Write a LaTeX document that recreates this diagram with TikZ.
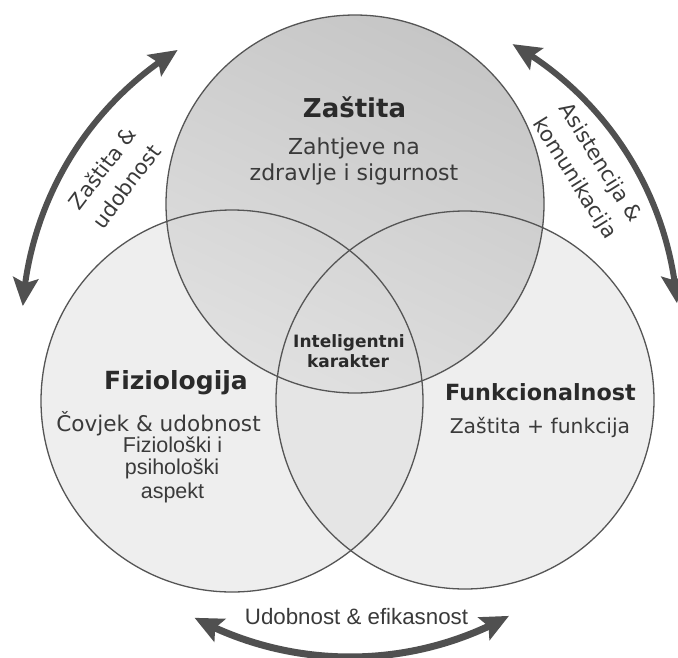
\documentclass[tikz,border=0pt]{standalone}
\usepackage{fontspec}
\setmainfont{DejaVu Sans}
\newfontfamily\arialf{Liberation Sans}
\usetikzlibrary{arrows.meta,bending,calc}
\definecolor{edgec}{HTML}{555555}
\definecolor{arrowc}{HTML}{505050}
\definecolor{txtd}{HTML}{2A2A2A}
\definecolor{txtr}{HTML}{3A3A3A}
\definecolor{lightfill}{HTML}{DEDEDE}
\definecolor{topdark}{HTML}{C6C6C6}
\definecolor{toplight}{HTML}{E0E0E0}
\begin{document}
\begin{tikzpicture}[x=1pt,y=-1pt,
  ring/.style={draw=edgec, line width=1.3pt},
  twoway/.style={draw=arrowc, line width=6pt,
    {Stealth[length=28pt,width=25pt,inset=5pt,flex]}-{Stealth[length=28pt,width=25pt,inset=5pt,flex]}},
  title/.style={font=\bfseries\fontsize{#1}{#1}\selectfont, text=txtd, inner sep=0pt, anchor=base},
  body/.style={font=\fontsize{#1}{#1}\selectfont, text=txtr, inner sep=0pt, anchor=base},
  arialtxt/.style={font=\arialf\fontsize{#1}{#1}\selectfont, text=txtr, inner sep=0pt, anchor=base},
  slanted/.style={font=\fontsize{21}{30}\selectfont, text=txtr, inner sep=0pt, align=center}]
\useasboundingbox (0,0) rectangle (678,657);
\fill[white] (0,0) rectangle (678,657);
% circles
\coordinate (T) at (355,204);
\coordinate (L) at (232,401);
\coordinate (R) at (465,400);
\fill[lightfill, fill opacity=0.5] (L) circle[radius=191pt];
\fill[lightfill, fill opacity=0.5] (R) circle[radius=189pt];
\shade[top color=topdark, bottom color=toplight, shading angle=-25] (T) circle[radius=189pt];
\draw[ring] (L) circle[radius=191pt];
\draw[ring] (R) circle[radius=189pt];
\draw[ring] (T) circle[radius=189pt];
% arrows
\coordinate (C) at (350,329);
\coordinate (la1) at ($(C)+(121.7:328pt)$);
\coordinate (ra1) at ($(C)+(60.3:328pt)$);
\coordinate (ba1) at ($(C)+(241.7:328pt)$);
\draw[twoway] (la1) arc[start angle=121.7, end angle=176, radius=328pt];
\draw[twoway] (ra1) arc[start angle=60.3, end angle=4.5, radius=328pt];
\draw[twoway, line width=7pt] (ba1) arc[start angle=241.7, end angle=299, radius=328pt];
% texts
\node[title=26] (zt) at (354.5,117) {Zaštita};
\node[body=22] (zb1) at (354,154) {Zahtjeve na};
\node[body=22] (zb2) at (354,180) {zdravlje i sigurnost};
\node[title=25] (fz) at (176,389) {Fiziologija};
\node[body=21.6] (fz1) at (158.5,431) {Čovjek \& udobnost};
\node[arialtxt=21.5] (fz2) at (172.5,452) {Fiziološki i};
\node[arialtxt=21.5] (fz3) at (172,474) {psihološki};
\node[arialtxt=21.5] (fz4) at (172.5,498) {aspekt};
\node[title=17] (ik1) at (349,347) {Inteligentni};
\node[title=17] (ik2) at (348,367) {karakter};
\node[title=22.3] (fn) at (540.5,400) {Funkcionalnost};
\node[body=20.3] (fn1) at (540,433) {Zaštita + funkcija};
\node[arialtxt=22.3] (ue) at (356.5,624) {Udobnost \& efikasnost};
\node[slanted, rotate=53] (zu) at (114,177) {Zaštita \&\\udobnost};
\node[slanted, rotate=-58] (ak) at (587,171) {Asistencija \&\\komunikacija};
\end{tikzpicture}
\end{document}
